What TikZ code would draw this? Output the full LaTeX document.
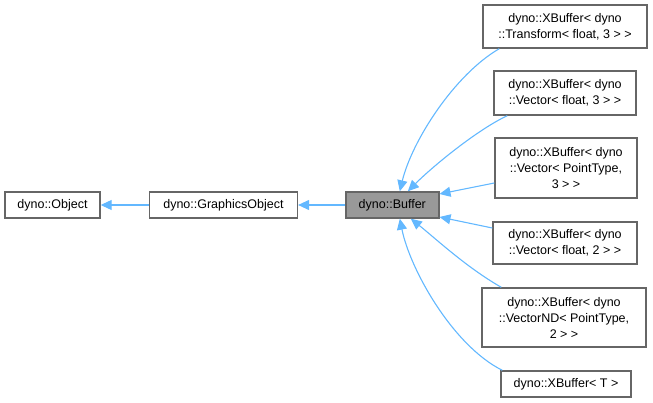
\documentclass[tikz,border=0pt]{standalone}
\usepackage{fontspec}
\setmainfont{Liberation Sans}
\usetikzlibrary{arrows.meta,positioning}
\definecolor{boxline}{HTML}{666666}
\definecolor{bufgray}{HTML}{999999}
\definecolor{edgeblue}{HTML}{63B8FF}
\begin{document}
\begin{tikzpicture}[
    x=1pt, y=-1pt,
    node distance=48pt,
    cls/.style={
      rectangle, draw=boxline, line width=1.4pt, fill=white,
      align=center, inner sep=0pt, font=\fontsize{12.5}{16}\selectfont
    },
    current/.style={cls, fill=bufgray},
    inherit/.style={draw=edgeblue, line width=1.1pt, -{Triangle[length=11pt,width=10pt]}}
  ]
  \useasboundingbox (0,0) rectangle (653,403);
  % base classes
  \node[cls, minimum width=95pt, minimum height=26pt] (object) at (52.5,205) {dyno::Object};
  \node[cls, minimum width=148pt, minimum height=26pt, right=of object] (gobject) {dyno::GraphicsObject};
  \node[current, minimum width=93pt, minimum height=26pt, right=47pt of gobject] (buffer) {dyno::Buffer};
  % derived classes
  \node[cls, minimum width=164pt, minimum height=43pt] (xtrans) at (565,26.5) {dyno::XBuffer< dyno\\::Transform< float, 3 > >};
  \node[cls, minimum width=142pt, minimum height=44pt] (xvecf3) at (565,93) {dyno::XBuffer< dyno\\::Vector< float, 3 > >};
  \node[cls, minimum width=142pt, minimum height=60pt] (xvecp3) at (566,168) {dyno::XBuffer< dyno\\::Vector< PointType,\\3 > >};
  \node[cls, minimum width=144pt, minimum height=42pt] (xvecf2) at (565,243) {dyno::XBuffer< dyno\\::Vector< float, 2 > >};
  \node[cls, minimum width=164pt, minimum height=59pt] (xvecnd) at (564,317.5) {dyno::XBuffer< dyno\\::VectorND< PointType,\\2 > >};
  \node[cls, minimum width=130pt, minimum height=26pt] (xbuft) at (566,384) {dyno::XBuffer< T >};
  % inheritance
  \draw[inherit] (gobject) -- (object);
  \draw[inherit] (buffer) -- (gobject);
  \draw[inherit] ([xshift=17pt]xtrans.south west) .. controls +(-45,26) and +(12,-50) .. ([xshift=7.5pt]buffer.north);
  \draw[inherit] ([xshift=14pt]xvecf3.south west) .. controls +(-30,14) and +(25,-25) .. ([xshift=15.5pt]buffer.north);
  \draw[inherit] ([yshift=-15pt]xvecp3.west) -- ([yshift=11pt]buffer.east);
  \draw[inherit] ([yshift=15pt]xvecf2.west) -- ([yshift=-12pt]buffer.east);
  \draw[inherit] ([xshift=20pt]xvecnd.north west) .. controls +(-35,-20) and +(25,20) .. ([xshift=18.5pt]buffer.south);
  \draw[inherit] ([xshift=2pt]xbuft.north west) .. controls +(-50,-25) and +(10,50) .. ([xshift=7.5pt]buffer.south);
\end{tikzpicture}
\end{document}
